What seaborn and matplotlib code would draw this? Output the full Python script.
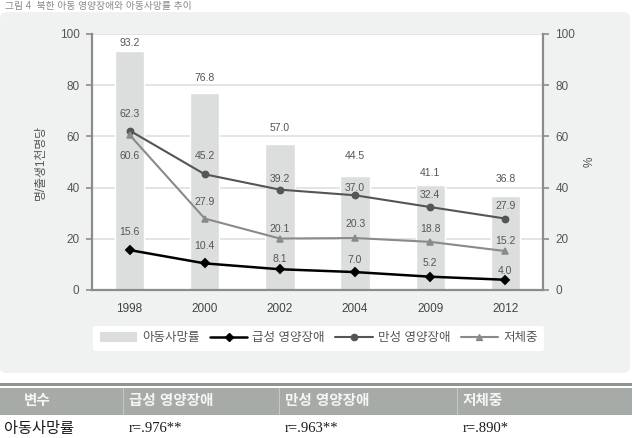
import matplotlib
matplotlib.use("Agg")
import matplotlib.pyplot as plt
import seaborn as sns
import pandas as pd
from matplotlib.patches import FancyBboxPatch, Rectangle, Patch
from matplotlib.lines import Line2D

# ---------------- data ----------------
years = ["1998", "2000", "2002", "2004", "2009", "2012"]
child_mortality = [93.2, 76.8, 57.0, 44.5, 41.1, 36.8]
acute = [15.6, 10.4, 8.1, 7.0, 5.2, 4.0]
chronic = [62.3, 45.2, 39.2, 37.0, 32.4, 27.9]
underweight = [60.6, 27.9, 20.1, 20.3, 18.8, 15.2]
series_names = ["아동사망률", "급성 영양장애", "만성 영양장애", "저체중"]
y_ticks = [0, 20, 40, 60, 80, 100]
left_label = "명/출생1천명당"
right_label = "%"
title_text = "그림 4  북한 아동 영양장애와 아동사망률 추이"
table_header = ["변수", "급성 영양장애", "만성 영양장애", "저체중"]
table_row = ["아동사망률", "r=.976**", "r=.963**", "r=.890*"]

# label offsets (pixels, + above) – layout only
bar_off = [8, 15, 16, 20, 12, 17]
chronic_off = [17, 18, 11, 7, 12, 13]
under_off = [-21, 17, 10, 14, 13, 10]
acute_off = [18, 17, 10, 12, 14, 9]

# ---------------- style ----------------
sns.set_theme(style="white")
plt.rcParams["font.family"] = ["Liberation Sans", "Noto Sans CJK KR", "DejaVu Sans"]

W, H = 634, 438
fig = plt.figure(figsize=(W / 100, H / 100), dpi=100)
fig.patch.set_facecolor("white")

def fx(px):
    return px / W

def fy(py):
    return 1 - py / H

# gray panel
panel = FancyBboxPatch((0, fy(373)), fx(630), (373 - 12) / H,
                       boxstyle="round,pad=0,rounding_size=0.012",
                       transform=fig.transFigure, facecolor="#f0f2f1",
                       edgecolor="none", zorder=-5)
fig.patches.append(panel)

fig.text(fx(5), fy(1), title_text, fontsize=7, color="#888888",
         va="top", ha="left")

BAR_C = "#dcdedd"
TXT = "#555555"
AX_C = "#8c8c8c"

ax = fig.add_axes([fx(92), fy(290), fx(543 - 92), (290 - 34) / H])
ax.set_facecolor("white")

df_bar = pd.DataFrame({"year": years, "value": child_mortality})
sns.barplot(data=df_bar, x="year", y="value", color=BAR_C, saturation=1,
            width=0.39, ax=ax, zorder=2)

line_specs = [
    (acute, "black", "D", 4.2, 1.8),
    (chronic, "#555555", "o", 4.5, 1.5),
    (underweight, "#8a8a8a", "^", 4.5, 1.5),
]
for vals, col, mk, ms, lw in line_specs:
    sns.pointplot(x=years, y=vals, color=col, markers=mk, linestyles="-",
                  errorbar=None, ax=ax, markersize=ms, linewidth=lw,
                  zorder=4)

ax.set_xlim(-0.5, 5.5)
ax.set_ylim(0, 100)
ax.set_yticks(y_ticks)
ax.set_xlabel("")
ax.set_ylabel(left_label, fontsize=8.5, color=TXT, labelpad=9)
ax.set_axisbelow(True)
ax.yaxis.grid(True, color="#dcdcdc", linewidth=1.1)
ax.xaxis.grid(False)
ax.set_xticks(range(len(years)))
ax.set_xticklabels(years)
ax.set_xticks([i - 0.5 for i in range(len(years) + 1)], minor=True)
ax.tick_params(axis="x", which="major", length=0, pad=9, labelsize=8.5,
               labelcolor="#444444")
ax.tick_params(axis="x", which="minor", length=5, width=1.2, color=AX_C,
               direction="out")
ax.tick_params(axis="y", length=4, width=1.2, color=AX_C, direction="out",
               labelsize=8.5, labelcolor=TXT, pad=5)
for s in ["left", "bottom"]:
    ax.spines[s].set_color(AX_C)
    ax.spines[s].set_linewidth(1.6)
for s in ["top", "right"]:
    ax.spines[s].set_visible(False)

ax2 = ax.twinx()
ax2.set_ylim(0, 100)
ax2.set_yticks(y_ticks)
ax2.tick_params(axis="y", length=4, width=1.2, color=AX_C, direction="out",
                labelsize=8.5, labelcolor=TXT, pad=5)
ax2.set_ylabel(right_label, fontsize=8.5, color=TXT, labelpad=6)
for s in ["left", "top", "bottom"]:
    ax2.spines[s].set_visible(False)
ax2.spines["right"].set_color(AX_C)
ax2.spines["right"].set_linewidth(1.6)
ax2.grid(False)

# value labels
def put_labels(vals, offs):
    for i, (v, o) in enumerate(zip(vals, offs)):
        ax.annotate(f"{v:.1f}", (i, v), xytext=(0, o * 0.72),
                    textcoords="offset points", ha="center", va="center",
                    fontsize=7.5, color=TXT, zorder=5)

put_labels(child_mortality, bar_off)
put_labels(chronic, chronic_off)
put_labels(underweight, under_off)
put_labels(acute, acute_off)

# legend
handles = [
    Patch(facecolor=BAR_C, edgecolor="none"),
    Line2D([], [], color="black", marker="D", markersize=4.2, linewidth=1.8),
    Line2D([], [], color="#555555", marker="o", markersize=4.5, linewidth=1.5),
    Line2D([], [], color="#8a8a8a", marker="^", markersize=4.5, linewidth=1.5),
]
leg = fig.legend(handles, series_names, ncol=4, loc="lower left",
                 bbox_to_anchor=(fx(87), fy(357), fx(463), 27 / H),
                 mode="expand", frameon=True, fancybox=True,
                 facecolor="white", edgecolor="none", framealpha=1,
                 fontsize=9, handlelength=3.0, handleheight=0.9,
                 handletextpad=0.4, borderpad=0.5, labelcolor=TXT)

# ---------------- table ----------------
fig.patches.append(Rectangle((0, fy(386)), fx(632), 3 / H,
                             transform=fig.transFigure, facecolor="#8f9491",
                             edgecolor="none"))
fig.patches.append(Rectangle((0, fy(415)), fx(632), 27 / H,
                             transform=fig.transFigure, facecolor="#a6aba8",
                             edgecolor="none"))
for sx in [123, 279, 457]:
    fig.patches.append(Rectangle((fx(sx), fy(415)), 1 / W, 27 / H,
                                 transform=fig.transFigure,
                                 facecolor="#c3c7c5", edgecolor="none"))

hy = fy(401)
fig.text(fx(37), hy, table_header[0], ha="center", va="center",
         fontsize=10.5, color="#f5f5f5", weight="bold")
for x0, t in zip([129, 285, 463], table_header[1:]):
    fig.text(fx(x0), hy, t, ha="left", va="center", fontsize=10.5,
             color="#f5f5f5", weight="bold")

ry = fy(429)
fig.text(fx(4), ry, table_row[0], ha="left", va="center", fontsize=11,
         color="#1a1a1a")
for x0, t in zip([129, 285, 463], table_row[1:]):
    fig.text(fx(x0), ry, t, ha="left", va="center", fontsize=10.5,
             color="#1a1a1a", family=["Liberation Serif", "DejaVu Serif"])

fig.savefig("out.png", dpi=100, facecolor="white")
